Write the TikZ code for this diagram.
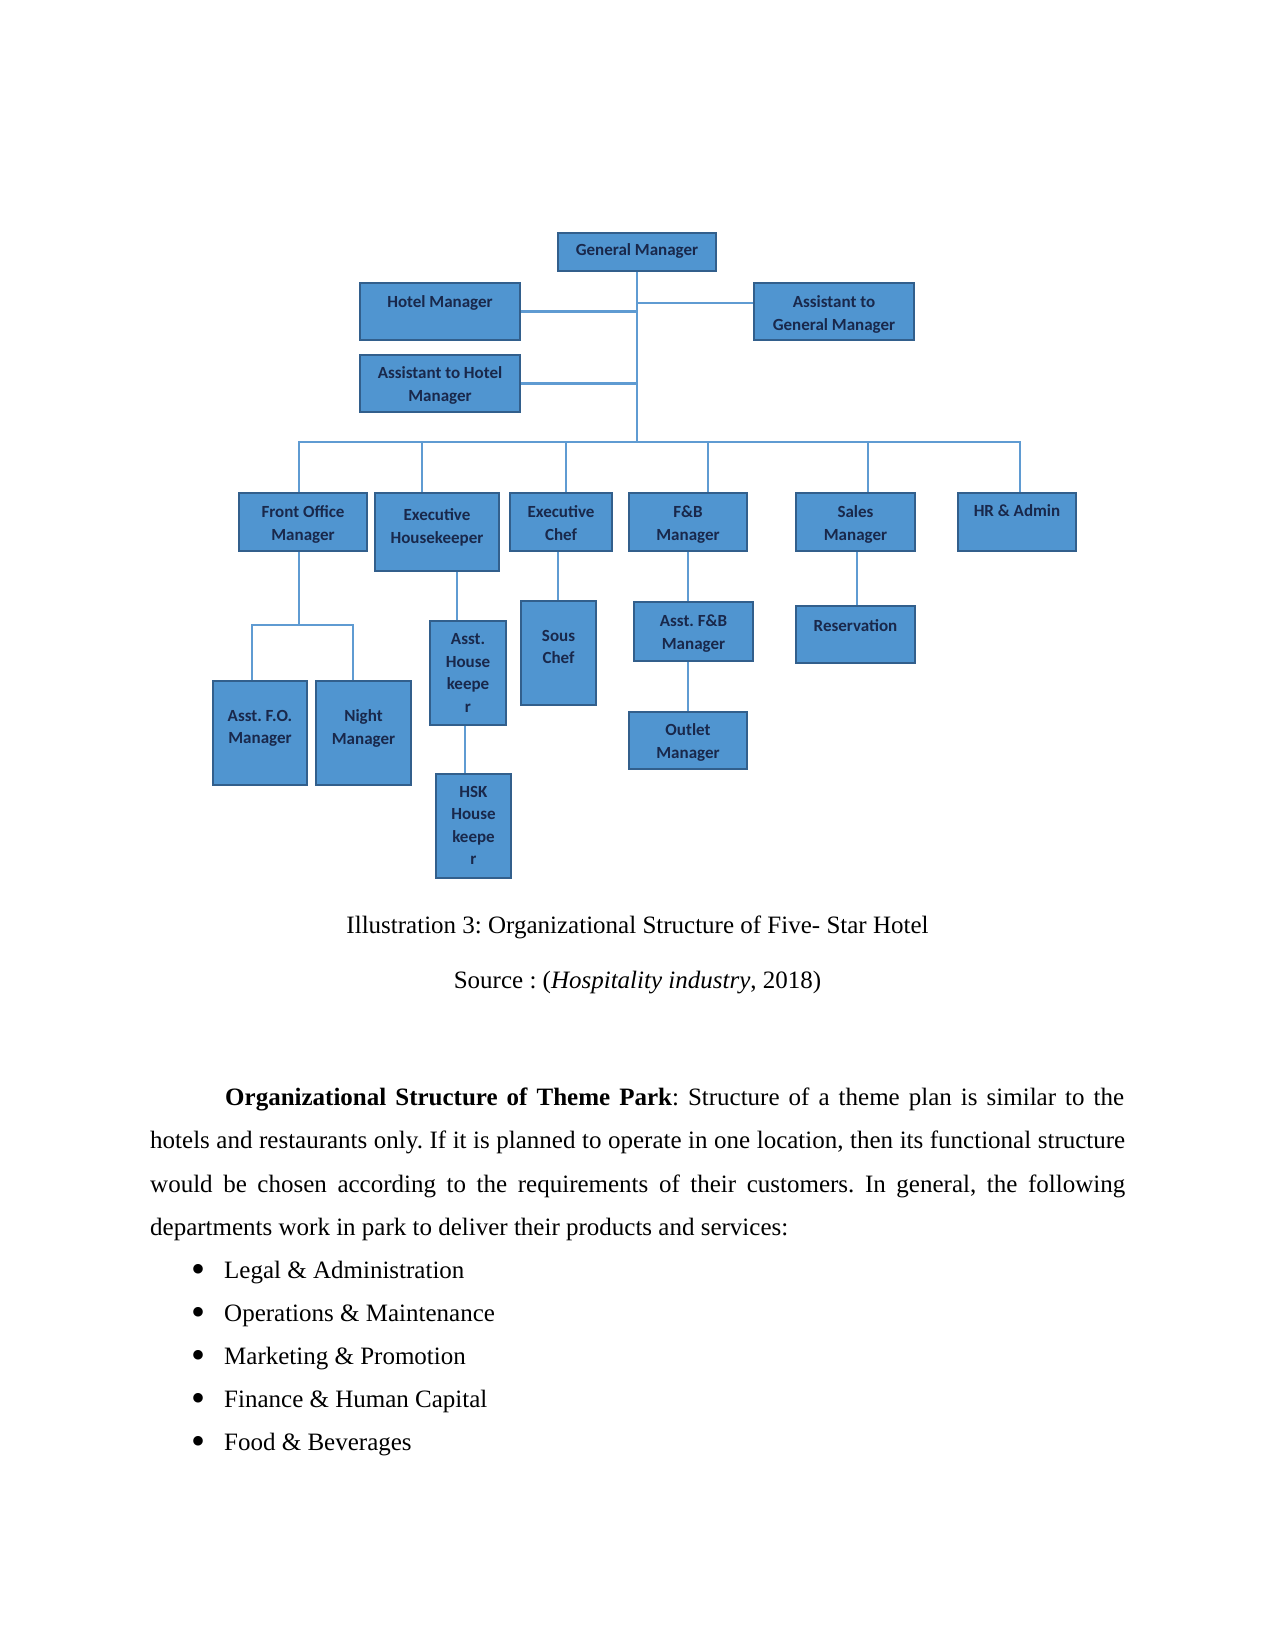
\documentclass[tikz,border=0pt]{standalone}
\usepackage{fontspec}
\setmainfont{Liberation Serif}
\newfontfamily\orgfont{Carlito}
\frenchspacing
\definecolor{boxfill}{RGB}{80,149,208}
\definecolor{boxedge}{RGB}{50,95,140}
\definecolor{linecol}{RGB}{95,155,210}
\definecolor{txtcol}{RGB}{25,40,75}
\tikzset{
  orgbox/.style={draw=boxedge, fill=boxfill, line width=1.6pt, inner sep=0pt},
  lbl/.style={font=\orgfont\bfseries\fontsize{17}{22.5}\selectfont, text=txtcol, align=center, inner sep=0pt},
  conn/.style={draw=linecol, line width=2.4pt},
  body/.style={font=\fontsize{25}{43}\selectfont\frenchspacing, inner sep=0pt, anchor=base west},
}
\begin{document}
\begin{tikzpicture}[x=1pt,y=-1pt]
\useasboundingbox (0,0) rectangle (1275,1650);
\fill[white] (0,0) rectangle (1275,1650);

% boxes
\node[orgbox, minimum width=158pt, minimum height=38pt] (GM) at (637,252) {};
\node[orgbox, minimum width=160pt, minimum height=57pt] (HM) at (440,311.5) {};
\node[orgbox, minimum width=160pt, minimum height=57pt] (AGM) at (834,311.5) {};
\node[orgbox, minimum width=160pt, minimum height=57pt] (AHM) at (440,383.5) {};

\node[orgbox, minimum width=128pt, minimum height=58pt] (FOM) at (303,522) {};
\node[orgbox, minimum width=124pt, minimum height=78pt] (EH) at (437,532) {};
\node[orgbox, minimum width=102pt, minimum height=58pt] (EC) at (561,522) {};
\node[orgbox, minimum width=118pt, minimum height=58pt] (FB) at (688,522) {};
\node[orgbox, minimum width=119pt, minimum height=58pt] (SM) at (855.5,522) {};
\node[orgbox, minimum width=118pt, minimum height=58pt] (HR) at (1017,522) {};

\node[orgbox, minimum width=94pt, minimum height=104pt] (AFO) at (260,733) {};
\node[orgbox, minimum width=95pt, minimum height=104pt] (NM) at (363.5,733) {};
\node[orgbox, minimum width=76pt, minimum height=104pt] (AHK) at (468,673) {};
\node[orgbox, minimum width=75pt, minimum height=104pt] (HSK) at (473.5,826) {};
\node[orgbox, minimum width=75pt, minimum height=104pt] (SC) at (558.5,653) {};
\node[orgbox, minimum width=119pt, minimum height=59pt] (AFB) at (693.5,631.5) {};
\node[orgbox, minimum width=118pt, minimum height=57pt] (OM) at (688,740.5) {};
\node[orgbox, minimum width=119pt, minimum height=57pt] (RES) at (855.5,634.5) {};

% labels
\node[lbl, below=11pt] (GM-t) at (GM.north) {General Manager};
\node[lbl, below=13.5pt] (HM-t) at (HM.north) {Hotel Manager};
\node[lbl, below=13.5pt] (AGM-t) at (AGM.north) {Assistant to\\General Manager};
\node[lbl, below=12.5pt] (AHM-t) at (AHM.north) {Assistant to Hotel\\Manager};
\node[lbl, below=13.5pt] (FOM-t) at (FOM.north) {Front Office\\Manager};
\node[lbl, below=16.5pt] (EH-t) at (EH.north) {Executive\\Housekeeper};
\node[lbl, below=13.5pt] (EC-t) at (EC.north) {Executive\\Chef};
\node[lbl, below=13.5pt] (FB-t) at (FB.north) {F\&B\\Manager};
\node[lbl, below=13.5pt] (SM-t) at (SM.north) {Sales\\Manager};
\node[lbl, below=12.5pt] (HR-t) at (HR.north) {HR \& Admin};
\node[lbl, below=29.5pt] (AFO-t) at (AFO.north) {Asst. F.O.\\Manager};
\node[lbl, below=29.5pt] (NM-t) at (NM.north) {Night\\Manager};
\node[lbl, below=13.5pt] (AHK-t) at (AHK.north) {Asst.\\House\\keepe\\r};
\node[lbl, below=12.5pt] (HSK-t) at (HSK.north) {HSK\\House\\keepe\\r};
\node[lbl, below=29.5pt] (SC-t) at (SC.north) {Sous\\Chef};
\node[lbl, below=13.5pt] (AFB-t) at (AFB.north) {Asst. F\&B\\Manager};
\node[lbl, below=12.5pt] (OM-t) at (OM.north) {Outlet\\Manager};
\node[lbl, below=14pt] (RES-t) at (RES.north) {Reservation};

% connectors
\coordinate (bus) at (638,442);
\coordinate (fsub) at (299,625);
\draw[conn] (GM.south) -- (GM.south |- bus);
\draw[conn] (HM.east) -- (HM.east -| GM.south);
\draw[conn] ([yshift=8.5pt]AGM.west) -- ([yshift=8.5pt]AGM.west -| GM.south);
\draw[conn] (AHM.east) -- (AHM.east -| GM.south);
\draw[conn] ([xshift=-4pt]FOM.north) |- (bus) -| ([xshift=3pt]HR.north);
\draw[conn] ([xshift=-15pt]EH.north) -- ([xshift=-15pt]EH.north |- bus);
\draw[conn] ([xshift=5pt]EC.north) -- ([xshift=5pt]EC.north |- bus);
\draw[conn] ([xshift=20pt]FB.north) -- ([xshift=20pt]FB.north |- bus);
\draw[conn] ([xshift=12.5pt]SM.north) -- ([xshift=12.5pt]SM.north |- bus);

\draw[conn] ([xshift=-4pt]FOM.south) -- (fsub);
\draw[conn] ([xshift=-8pt]AFO.north) |- (fsub) -| ([xshift=-10.5pt]NM.north);
\draw[conn] ([xshift=20pt]EH.south) -- ([xshift=-11pt]AHK.north);
\draw[conn] ([xshift=-3pt]AHK.south) -- ([xshift=-8.5pt]HSK.north);
\draw[conn] ([xshift=-3pt]EC.south) -- ([xshift=-0.5pt]SC.north);
\draw[conn] (FB.south) -- ([xshift=-5.5pt]AFB.north);
\draw[conn] ([xshift=-5.5pt]AFB.south) -- (OM.north);
\draw[conn] ([xshift=1.5pt]SM.south) -- ([xshift=1.5pt]RES.north);

% caption
\node[font=\fontsize{25}{30}\selectfont, inner sep=0pt, anchor=base] (cap1) at (637.5,933) {Illustration 3: Organizational Structure of Five- Star Hotel};
\node[font=\fontsize{25}{30}\selectfont, inner sep=0pt, anchor=base] (cap2) at (637.5,988) {Source : (\textit{Hospitality industry}, 2018)};

% paragraph
\node[body] (p1) at (225,1105) {\makebox[899pt][s]{\textbf{Organizational Structure of Theme Park}: Structure of a theme plan is similar to the}};
\node[body] (p2) at (150,1148) {\makebox[975pt][s]{hotels and restaurants only. If it is planned to operate in one location, then its functional structure}};
\node[body] (p3) at (150,1192) {\makebox[975pt][s]{would be chosen according to the requirements of their customers. In general, the following}};
\node[body] (p4) at (150,1235) {departments work in park to deliver their products and services:};

% bullets
\foreach \yy/\txt [count=\i] in {1278/{Legal \& Administration},1321/{Operations \& Maintenance},1364/{Marketing \& Promotion},1407/{Finance \& Human Capital},1450/{Food \& Beverages}}{
  \node[font=\fontsize{40}{40}\selectfont, inner sep=0pt, anchor=base] (b\i) at (198,\yy+4) {\textbullet};
  \node[body] (t\i) at (224,\yy) {\txt};
}
\end{tikzpicture}
\end{document}
